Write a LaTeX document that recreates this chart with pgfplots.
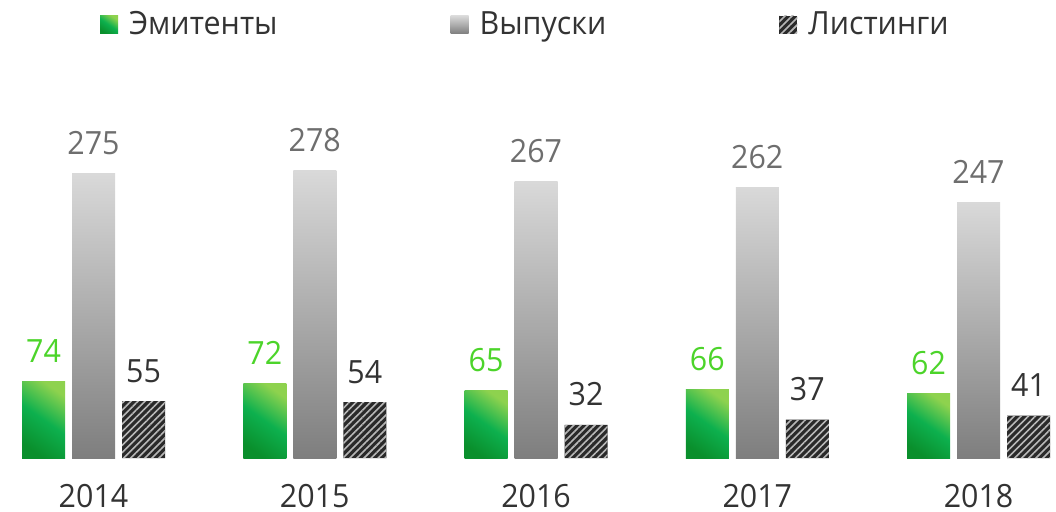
\documentclass[border=0pt]{standalone}
\usepackage{fontspec}
\setmainfont{Open Sans}[FakeStretch=0.95]
\usepackage{pgfplots}
\pgfplotsset{compat=1.18}
\usetikzlibrary{patterns.meta,shadings}
\definecolor{gdark}{HTML}{0A8F2C}
\definecolor{gmid}{HTML}{0DB04E}
\definecolor{glight}{HTML}{8ED24E}
\definecolor{glabel}{HTML}{4CD42A}
\definecolor{graytop}{HTML}{D9D9D9}
\definecolor{graybot}{HTML}{7E7E7E}
\definecolor{graylabel}{HTML}{6E6E6E}
\definecolor{hatchbg}{HTML}{2A2A2A}
\definecolor{hatchfg}{HTML}{B8B8B8}
\definecolor{txt}{HTML}{333333}
\pgfplotsset{
  greenbar/.style={bar shift=-50pt, draw=none, top color=glight, bottom color=gdark, middle color=gmid, shading angle=-35,
    every node near coord/.append style={text=glabel}},
  graybar/.style={bar shift=0pt, draw=none, top color=graytop, bottom color=graybot,
    every node near coord/.append style={text=graylabel}},
}
\begin{document}
\begin{tikzpicture}
\begin{axis}[
  scale only axis,
  width=1056pt, height=458pt,
  xmin=-0.4226, xmax=4.3503,
  ymin=0, ymax=442.9,
  axis line style={draw=none},
  clip=false,
  /pgf/number format/assume math mode=true,
  ybar, bar width=43pt,
  xtick={0,1,2,3,4},
  xticklabels={2014,2015,2016,2017,2018},
  xticklabel style={font=\fontsize{32}{38}\selectfont, text=txt, anchor=base, yshift=-49pt, inner sep=0pt},
  hide y axis,
  major tick length=0pt,
  nodes near coords,
  every node near coord/.append style={font=\fontsize{32}{38}\selectfont, anchor=base, yshift=19pt},
  legend columns=3,
  legend style={draw=none, fill=none, at={(rel axis cs:0.0947,0.948)}, anchor=west,
    font=\fontsize{32}{38}\selectfont, text=txt,
    /tikz/every odd column/.append style={column sep=9pt},
    /tikz/every even column/.append style={column sep=171pt},
    inner sep=0pt, outer sep=0pt},
  legend image code/.code={\path[#1,draw=none] (0pt,-10pt) rectangle (18pt,8pt);},
]
% Эмитенты
\addplot[greenbar] coordinates {(0,74)};
\addlegendentry{Эмитенты}
% Выпуски
\addplot[graybar] coordinates {(0,275)};
\addlegendentry{Выпуски}
% Листинги
\addplot[bar shift=50pt, draw=none, fill=hatchbg,
  postaction={pattern={Lines[angle=45,distance=5pt,line width=1.6pt]}, pattern color=hatchfg},
  every node near coord/.append style={text=txt}]
  coordinates {(0,55) (1,54) (2,32) (3,37) (4,41)};
\addlegendentry{Листинги}
\addplot[greenbar, forget plot] coordinates {(1,72)};
\addplot[greenbar, forget plot] coordinates {(2,65)};
\addplot[greenbar, forget plot] coordinates {(3,66)};
\addplot[greenbar, forget plot] coordinates {(4,62)};
\addplot[graybar, forget plot] coordinates {(1,278)};
\addplot[graybar, forget plot] coordinates {(2,267)};
\addplot[graybar, forget plot] coordinates {(3,262)};
\addplot[graybar, forget plot] coordinates {(4,247)};
\end{axis}
\pgfresetboundingbox
\useasboundingbox (0pt,-53pt) rectangle (1056pt,458pt);
\end{tikzpicture}
\end{document}
